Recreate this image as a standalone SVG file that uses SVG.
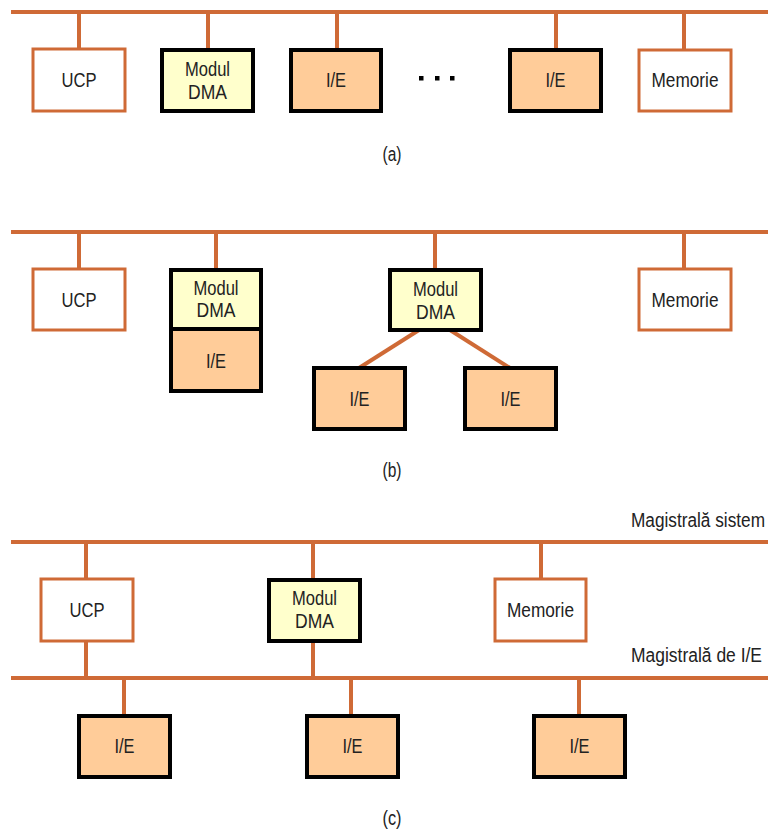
<svg xmlns="http://www.w3.org/2000/svg" width="768" height="832" viewBox="0 0 768 832">
  <style>
    .bus { stroke: #CF6A36; stroke-width: 4; fill: none; }
    .plain { fill: #FFFFFF; stroke: #CF6A36; stroke-width: 3; }
    .dma { fill: #FFFFCC; stroke: #000000; stroke-width: 4; }
    .io { fill: #FFCC99; stroke: #000000; stroke-width: 4; }
    text { font-family: "Liberation Sans", Arial, sans-serif; font-size: 20px; fill: #222222; text-anchor: middle; }
    .lbl { text-anchor: start; }
  </style>
  <rect width="768" height="832" fill="#FFFFFF"/>

  <!-- connectors: buses and stubs -->
  <g id="connectors" class="bus">
    <!-- (a) -->
    <line x1="11" y1="12" x2="768" y2="12"/>
    <line x1="79" y1="12" x2="79" y2="49"/>
    <line x1="208" y1="12" x2="208" y2="49"/>
    <line x1="337" y1="12" x2="337" y2="49"/>
    <line x1="556" y1="12" x2="556" y2="49"/>
    <line x1="684" y1="12" x2="684" y2="49"/>
    <!-- (b) -->
    <line x1="11" y1="232" x2="768" y2="232"/>
    <line x1="79" y1="232" x2="79" y2="269"/>
    <line x1="216" y1="232" x2="216" y2="269"/>
    <line x1="435" y1="232" x2="435" y2="269"/>
    <line x1="684" y1="232" x2="684" y2="269"/>
    <line x1="419" y1="330" x2="359" y2="368"/>
    <line x1="450" y1="330" x2="510" y2="368"/>
    <!-- (c) system bus -->
    <line x1="11" y1="542" x2="768" y2="542"/>
    <line x1="86" y1="542" x2="86" y2="579"/>
    <line x1="313" y1="542" x2="313" y2="579"/>
    <line x1="541" y1="542" x2="541" y2="579"/>
    <!-- (c) I/O bus -->
    <line x1="11" y1="678" x2="768" y2="678"/>
    <line x1="86" y1="641" x2="86" y2="678"/>
    <line x1="313" y1="641" x2="313" y2="678"/>
    <line x1="124" y1="678" x2="124" y2="716"/>
    <line x1="351" y1="678" x2="351" y2="716"/>
    <line x1="579" y1="678" x2="579" y2="716"/>
  </g>

  <!-- (a) single bus, detached DMA -->
  <g id="a-ucp">
    <rect class="plain" x="33" y="49" width="92" height="62"/>
    <text x="79" y="87" textLength="35" lengthAdjust="spacingAndGlyphs">UCP</text>
  </g>
  <g id="a-dma">
    <rect class="dma" x="162" y="50" width="91" height="61"/>
    <text x="207.5" y="76" textLength="45" lengthAdjust="spacingAndGlyphs">Modul</text>
    <text x="207.5" y="99" textLength="39" lengthAdjust="spacingAndGlyphs">DMA</text>
  </g>
  <g id="a-io1">
    <rect class="io" x="291" y="50" width="90" height="61"/>
    <text x="336" y="87" textLength="20" lengthAdjust="spacingAndGlyphs">I/E</text>
  </g>
  <g id="a-dots" fill="#000000">
    <rect x="419" y="76" width="4.5" height="4.5"/>
    <rect x="435" y="76" width="4.5" height="4.5"/>
    <rect x="450" y="76" width="4.5" height="4.5"/>
  </g>
  <g id="a-io2">
    <rect class="io" x="510" y="50" width="91" height="61"/>
    <text x="555.5" y="87" textLength="20" lengthAdjust="spacingAndGlyphs">I/E</text>
  </g>
  <g id="a-mem">
    <rect class="plain" x="639" y="50" width="92" height="61"/>
    <text x="685" y="87" textLength="67" lengthAdjust="spacingAndGlyphs">Memorie</text>
  </g>
  <text x="392" y="161" textLength="19" lengthAdjust="spacingAndGlyphs">(a)</text>

  <!-- (b) single bus, integrated DMA -->
  <g id="b-ucp">
    <rect class="plain" x="33" y="269" width="92" height="61"/>
    <text x="79" y="307" textLength="35" lengthAdjust="spacingAndGlyphs">UCP</text>
  </g>
  <g id="b-dma-io">
    <rect class="io" x="171" y="270" width="90" height="121"/>
    <rect class="dma" x="171" y="270" width="90" height="59"/>
    <text x="216" y="295" textLength="45" lengthAdjust="spacingAndGlyphs">Modul</text>
    <text x="216" y="317" textLength="39" lengthAdjust="spacingAndGlyphs">DMA</text>
    <text x="216" y="368" textLength="20" lengthAdjust="spacingAndGlyphs">I/E</text>
  </g>
  <g id="b-dma">
    <rect class="dma" x="390" y="270" width="91" height="60"/>
    <text x="435.5" y="296" textLength="45" lengthAdjust="spacingAndGlyphs">Modul</text>
    <text x="435.5" y="319" textLength="39" lengthAdjust="spacingAndGlyphs">DMA</text>
  </g>
  <g id="b-io1">
    <rect class="io" x="314" y="368" width="91" height="61"/>
    <text x="359.5" y="406" textLength="20" lengthAdjust="spacingAndGlyphs">I/E</text>
  </g>
  <g id="b-io2">
    <rect class="io" x="465" y="368" width="91" height="61"/>
    <text x="510.5" y="406" textLength="20" lengthAdjust="spacingAndGlyphs">I/E</text>
  </g>
  <g id="b-mem">
    <rect class="plain" x="639" y="269" width="92" height="61"/>
    <text x="685" y="307" textLength="67" lengthAdjust="spacingAndGlyphs">Memorie</text>
  </g>
  <text x="392" y="477" textLength="19" lengthAdjust="spacingAndGlyphs">(b)</text>

  <!-- (c) system bus + I/O bus -->
  <text class="lbl" x="631" y="527" textLength="134" lengthAdjust="spacingAndGlyphs">Magistrală sistem</text>
  <text class="lbl" x="631" y="662" textLength="131" lengthAdjust="spacingAndGlyphs">Magistrală de I/E</text>
  <g id="c-ucp">
    <rect class="plain" x="41" y="579" width="92" height="62"/>
    <text x="87" y="617" textLength="35" lengthAdjust="spacingAndGlyphs">UCP</text>
  </g>
  <g id="c-dma">
    <rect class="dma" x="269" y="580" width="91" height="61"/>
    <text x="314.5" y="605" textLength="45" lengthAdjust="spacingAndGlyphs">Modul</text>
    <text x="314.5" y="628" textLength="39" lengthAdjust="spacingAndGlyphs">DMA</text>
  </g>
  <g id="c-mem">
    <rect class="plain" x="495" y="579" width="91" height="62"/>
    <text x="540.5" y="617" textLength="67" lengthAdjust="spacingAndGlyphs">Memorie</text>
  </g>
  <g id="c-io1">
    <rect class="io" x="79" y="716" width="91" height="61"/>
    <text x="124.5" y="753" textLength="20" lengthAdjust="spacingAndGlyphs">I/E</text>
  </g>
  <g id="c-io2">
    <rect class="io" x="307" y="716" width="91" height="61"/>
    <text x="352.5" y="753" textLength="20" lengthAdjust="spacingAndGlyphs">I/E</text>
  </g>
  <g id="c-io3">
    <rect class="io" x="534" y="716" width="91" height="61"/>
    <text x="579.5" y="753" textLength="20" lengthAdjust="spacingAndGlyphs">I/E</text>
  </g>
  <text x="392" y="825" textLength="19" lengthAdjust="spacingAndGlyphs">(c)</text>
</svg>
